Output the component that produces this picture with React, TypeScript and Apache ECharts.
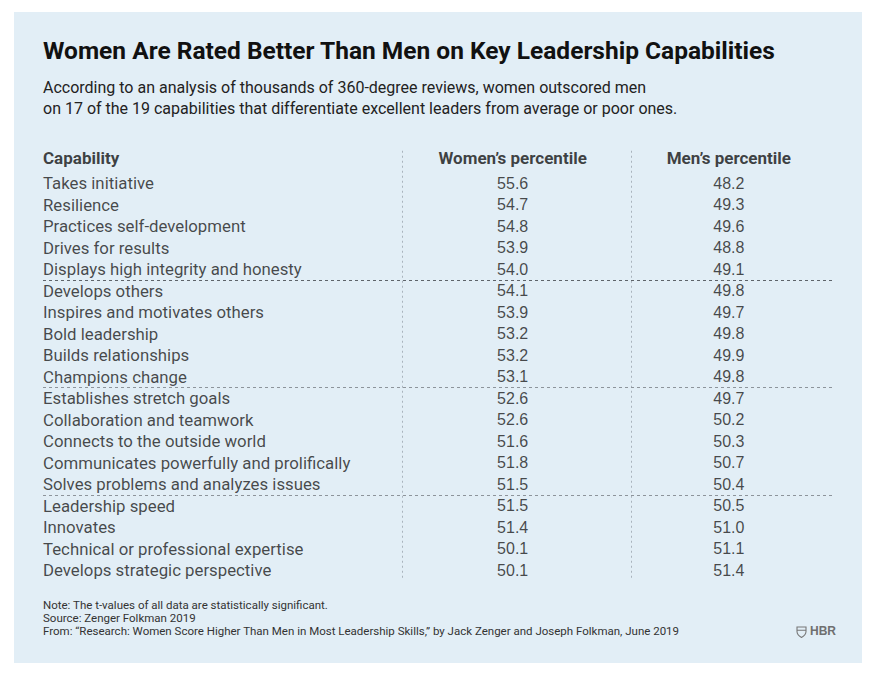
import React, { useEffect, useRef } from "react";
import * as echarts from "echarts";

const capabilities = [
  "Takes initiative",
  "Resilience",
  "Practices self-development",
  "Drives for results",
  "Displays high integrity and honesty",
  "Develops others",
  "Inspires and motivates others",
  "Bold leadership",
  "Builds relationships",
  "Champions change",
  "Establishes stretch goals",
  "Collaboration and teamwork",
  "Connects to the outside world",
  "Communicates powerfully and prolifically",
  "Solves problems and analyzes issues",
  "Leadership speed",
  "Innovates",
  "Technical or professional expertise",
  "Develops strategic perspective",
];
const womenPct = [55.6, 54.7, 54.8, 53.9, 54.0, 54.1, 53.9, 53.2, 53.2, 53.1, 52.6, 52.6, 51.6, 51.8, 51.5, 51.5, 51.4, 50.1, 50.1];
const menPct = [48.2, 49.3, 49.6, 48.8, 49.1, 49.8, 49.7, 49.8, 49.9, 49.8, 49.7, 50.2, 50.3, 50.7, 50.4, 50.5, 51.0, 51.1, 51.4];
const columnHeaders = ["Capability", "Women\u2019s percentile", "Men\u2019s percentile"];
const groupSize = 5;

const titleText = "Women Are Rated Better Than Men on Key Leadership Capabilities";
const subtitleLines = [
  "According to an analysis of thousands of 360-degree reviews, women outscored men",
  "on 17 of the 19 capabilities that differentiate excellent leaders from average or poor ones.",
];
const footerLines = [
  "Note: The t-values of all data are statistically significant.",
  "Source: Zenger Folkman 2019",
  "From: \u201cResearch: Women Score Higher Than Men in Most Leadership Skills,\u201d by Jack Zenger and Joseph Folkman, June 2019",
];
const brand = "HBR";

// layout (x positions of columns on a 0..100 horizontal scale)
const COL_X = [0, 59.3, 86.6];
const DIVIDER_X = [45.33, 74.24];

const SHIELD =
  "M0 0 L9 0 L9 4.5 C9 7.2 6.8 9.2 4.5 10.4 C2.2 9.2 0 7.2 0 4.5 Z M0 3.2 L9 3.2";

const TEXT_FONT = "Roboto, 'Liberation Sans', sans-serif";
const NUM_FONT = "'Liberation Sans', Arial, sans-serif";

export default function App() {
  const ref = useRef<HTMLDivElement>(null);
  useEffect(() => {
    if (!ref.current) return;
    try {
      echarts.graphic.registerShape("hbrShield", echarts.graphic.extendPath(SHIELD, {}));
    } catch (e) {}
    const chart = echarts.init(ref.current, undefined, { renderer: "svg" });

    const rows = capabilities.map((_, i) => i);
    const breaks: number[] = [];
    for (let i = groupSize; i < capabilities.length; i += groupSize) breaks.push(i - 0.5);

    const option: any = {
      animation: false,
      backgroundColor: "#ffffff",
      title: {
        text: titleText,
        subtext: subtitleLines.join("\n"),
        left: 43,
        top: 36,
        padding: 0,
        itemGap: 12.5,
        textStyle: {
          fontFamily: TEXT_FONT,
          fontSize: 24.5,
          fontWeight: "bold",
          color: "#111111",
          lineHeight: 28,
        },
        subtextStyle: {
          fontFamily: TEXT_FONT,
          fontSize: 16,
          color: "#222222",
          lineHeight: 21,
        },
      },
      grid: { left: 43, right: 50, top: 150.75, height: 430, containLabel: false },
      xAxis: { type: "value", min: 0, max: 100, show: false },
      yAxis: { type: "value", inverse: true, min: -1.5, max: 18.5, show: false },
      graphic: [
        {
          type: "rect",
          z: -10,
          silent: true,
          shape: { x: 14, y: 12, width: 848, height: 651 },
          style: { fill: "#e2eef6" },
        },
        ...footerLines.map((t, i) => ({
          type: "text",
          left: 43,
          top: 598.5 + i * 13,
          silent: true,
          style: {
            text: t,
            fontFamily: TEXT_FONT,
            fontSize: 11.5,
            fill: "#333333",
          },
        })),
        {
          type: "hbrShield",
          x: 797,
          y: 627,
          silent: true,
          style: { fill: "none", stroke: "#777777", lineWidth: 1.1 },
        },
        {
          type: "text",
          left: 810,
          top: 625,
          silent: true,
          style: {
            text: brand,
            fontFamily: NUM_FONT,
            fontSize: 12,
            fontWeight: "bold",
            fill: "#6f6f6f",
          },
        },
      ],
      series: [
        {
          name: "Header",
          type: "scatter",
          symbolSize: 0,
          silent: true,
          data: columnHeaders.map((h, c) =>
            c === 0
              ? {
                  value: [COL_X[c], -1],
                  name: h,
                  label: { position: "right", distance: 0 },
                }
              : { value: [COL_X[c], -1], name: h }
          ),
          label: {
            show: true,
            formatter: (p: any) => p.name,
            position: "inside",
            offset: [0, -3.5],
            fontFamily: TEXT_FONT,
            fontSize: 17,
            fontWeight: "bold",
            color: "#111111",
          },
          markLine: {
            silent: true,
            symbol: "none",
            label: { show: false },
            lineStyle: { type: [2, 3], color: "#a9b3bc", width: 1 },
            data: DIVIDER_X.map((x) => ({ xAxis: x })),
          },
        },
        {
          name: "Capability",
          type: "scatter",
          symbolSize: 0,
          silent: true,
          data: rows.map((i) => ({ value: [COL_X[0], i], name: capabilities[i] })),
          label: {
            show: true,
            formatter: (p: any) => p.name,
            position: "right",
            distance: 0,
            fontFamily: TEXT_FONT,
            fontSize: 16.8,
            color: "#1c1c1c",
          },
          markLine: {
            silent: true,
            symbol: "none",
            label: { show: false },
            lineStyle: { type: [3, 3], color: "#8d949b", width: 1 },
            data: breaks.map((b, k) => ({
              yAxis: b,
              lineStyle: k === 0 ? { color: "#5e646a" } : {},
            })),
          },
        },
        {
          name: "Women\u2019s percentile",
          type: "scatter",
          symbolSize: 0,
          silent: true,
          data: rows.map((i) => [COL_X[1], i, womenPct[i]]),
          label: {
            show: true,
            formatter: (p: any) => Number(p.value[2]).toFixed(1),
            position: "inside",
            fontFamily: NUM_FONT,
            fontSize: 16,
            color: "#1c1c1c",
          },
        },
        {
          name: "Men\u2019s percentile",
          type: "scatter",
          symbolSize: 0,
          silent: true,
          data: rows.map((i) => [COL_X[2], i, menPct[i]]),
          label: {
            show: true,
            formatter: (p: any) => Number(p.value[2]).toFixed(1),
            position: "inside",
            fontFamily: NUM_FONT,
            fontSize: 16,
            color: "#1c1c1c",
          },
        },
      ],
    };
    chart.setOption(option);
    return () => chart.dispose();
  }, []);
  return (
    <div
      ref={ref}
      style={{ position: "fixed", left: 0, top: 0, width: 885, height: 676 }}
    />
  );
}
